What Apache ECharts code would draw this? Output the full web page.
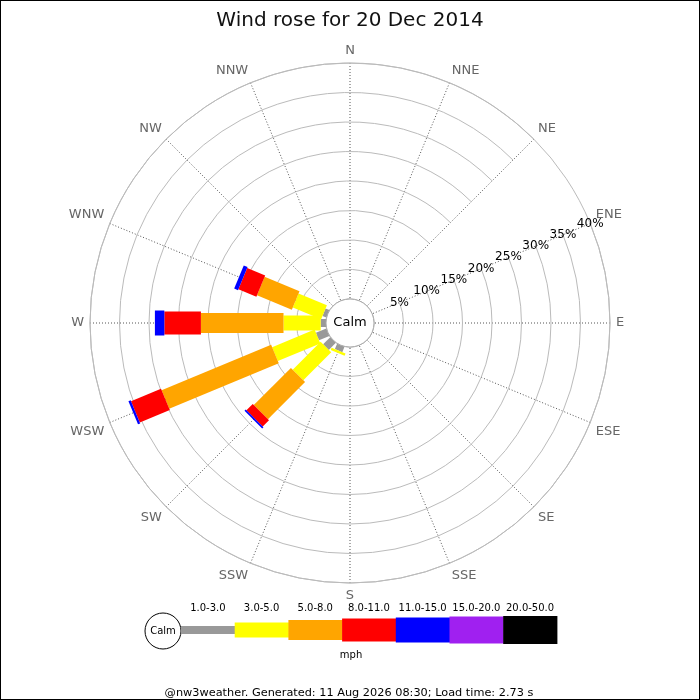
<!DOCTYPE html>
<html><head><meta charset="utf-8">
<script src="https://cdn.jsdelivr.net/npm/echarts@6/dist/echarts.min.js"></script>
<style>html,body{margin:0;padding:0;background:#fff}
#c{width:700px;height:700px;box-sizing:border-box;border:1px solid #000}</style>
</head><body><div id="c"></div>
<script>
// ---- data ----
const directions = ['N','NNE','NE','ENE','E','ESE','SE','SSE','S','SSW','SW','WSW','W','WNW','NW','NNW'];
const speedBins = ['1.0-3.0','3.0-5.0','5.0-8.0','8.0-11.0','11.0-15.0','15.0-20.0','20.0-50.0'];
const radialTicks = [5,10,15,20,25,30,35,40];
// percentage of time per direction (N first, clockwise), one array per speed bin (mph)
const pct_1_3   = [0,0,0,0,0,0,0,0,0,1.0,1.7,1.9,0.9,0.7,0,0];
const pct_3_5   = [0,0,0,0,0,0,0,0,0,0.4,6.7,7.8,6.3,5.2,0,0];
const pct_5_8   = [0,0,0,0,0,0,0,0,0,0,8.9,20.1,14.0,6.4,0,0];
const pct_8_11  = [0,0,0,0,0,0,0,0,0,0,1.5,5.5,6.2,3.3,0,0];
const pct_11_15 = [0,0,0,0,0,0,0,0,0,0,0.3,0.4,1.6,0.7,0,0];
const pct_15_20 = [0,0,0,0,0,0,0,0,0,0,0,0,0,0,0,0];
const pct_20_50 = [0,0,0,0,0,0,0,0,0,0,0,0,0,0,0,0];
const binSeries = [pct_1_3, pct_3_5, pct_5_8, pct_8_11, pct_11_15, pct_15_20, pct_20_50];

// ---- styles ----
const binColors = ['#999999','#ffff00','#ffa500','#ff0000','#0000ff','#a020f0','#000000'];
const binWidths = [8,15,20,23,25,27,28];
const FONT = 'DejaVu Sans';

// angle axis starts at ENE so the radius labels lie along ENE
const axisDirs = directions.slice(3).concat(directions.slice(0,3));

const cumulative = directions.map(() => 0);
const series = binSeries.map((vals, b) => {
  const data = [];
  directions.forEach((d, i) => {
    const s = cumulative[i], e = s + vals[i];
    if (vals[i] > 0) data.push([axisDirs.indexOf(d), s, e]);
    cumulative[i] = e;
  });
  return {
    type: 'custom', name: speedBins[b], coordinateSystem: 'polar', z: 5,
    data: data,
    encode: { angle: 0, radius: 2 },
    renderItem: function (params, api) {
      const cs = params.coordSys;
      const a = api.value(0), s = api.value(1), e = api.value(2);
      const p0 = api.coord([s, a]), p1 = api.coord([e, a]);
      let ux = p1[0] - cs.cx, uy = p1[1] - cs.cy;
      const len = Math.sqrt(ux*ux + uy*uy); ux /= len; uy /= len;
      const h = binWidths[b] / 2, nx = -uy * h, ny = ux * h;
      return {
        type: 'polygon',
        shape: { points: [[p0[0]+nx,p0[1]+ny],[p1[0]+nx,p1[1]+ny],[p1[0]-nx,p1[1]-ny],[p0[0]-nx,p0[1]-ny]] },
        style: { fill: binColors[b] }
      };
    }
  };
});

// calm circle in the middle
series.push({
  type: 'custom', coordinateSystem: 'polar', z: 10, silent: true,
  data: [[0, 0, 0]],
  encode: { angle: 0, radius: 2 },
  renderItem: function (params) {
    const cs = params.coordSys;
    return { type: 'group', children: [
      { type: 'circle', shape: { cx: cs.cx, cy: cs.cy, r: cs.r0 }, style: { fill: '#fff', stroke: '#aaa', lineWidth: 1 } },
      { type: 'text', style: { text: 'Calm', x: cs.cx, y: cs.cy, align: 'center', verticalAlign: 'middle', font: '13px "' + FONT + '"', fill: '#000' } }
    ]};
  }
});

// legend drawn as graphic
const legX0 = 180, legY = 629, segW = 53.7;
const graphics = [
  { type: 'circle', shape: { cx: 162, cy: 630, r: 18 }, style: { fill: '#fff', stroke: '#000', lineWidth: 1 } },
  { type: 'text', style: { text: 'Calm', x: 162, y: 630, align: 'center', verticalAlign: 'middle', font: '10px "' + FONT + '"', fill: '#000' } },
  { type: 'text', style: { text: 'mph', x: 350, y: 654, align: 'center', verticalAlign: 'middle', font: '10px "' + FONT + '"', fill: '#000' } },
  { type: 'text', style: { text: '@nw3weather. Generated: 11 Aug 2026 08:30; Load time: 2.73 s', x: 348, y: 692, align: 'center', verticalAlign: 'middle', font: '11.3px "' + FONT + '"', fill: '#000' } }
];
speedBins.forEach((b, i) => {
  graphics.push({ type: 'rect', shape: { x: legX0 + i*segW, y: legY - binWidths[i]/2, width: segW + 0.5, height: binWidths[i] }, style: { fill: binColors[i] } });
  graphics.push({ type: 'text', style: { text: b, x: legX0 + i*segW + segW/2, y: 607, align: 'center', verticalAlign: 'middle', font: '10px "' + FONT + '"', fill: '#000' } });
});

const chart = echarts.init(document.getElementById('c'));
chart.setOption({
  animation: false,
  backgroundColor: '#fff',
  title: { text: 'Wind rose for 20 Dec 2014', left: 'center', top: 5,
    textStyle: { fontFamily: FONT, fontSize: 20, fontWeight: 'normal', color: '#111' } },
  polar: { center: [349, 322], radius: [24, 260] },
  angleAxis: {
    type: 'category', data: axisDirs, startAngle: 22.5, clockwise: true, boundaryGap: false,
    axisLine: { lineStyle: { color: '#bbb', width: 1 } },
    axisTick: { show: false },
    axisLabel: { color: '#666', fontSize: 13, fontFamily: FONT, margin: 6 },
    splitLine: { show: true, lineStyle: { color: '#555', width: 1, type: [1, 2] } }
  },
  radiusAxis: {
    type: 'value', min: 0, max: radialTicks[radialTicks.length-1], interval: radialTicks[1]-radialTicks[0],
    axisLine: { show: false }, axisTick: { show: false },
    axisLabel: { show: true, showMinLabel: false, showMaxLabel: true, hideOverlap: false,
      formatter: v => v ? v + '%' : '', color: '#000', fontSize: 12, fontFamily: FONT,
      margin: 0, align: 'center', verticalAlign: 'middle', rotate: 0 },
    splitLine: { show: true, lineStyle: { color: '#bbb', width: 1 } },
    z: 3
  },
  graphic: graphics,
  series: series
});
</script></body></html>
